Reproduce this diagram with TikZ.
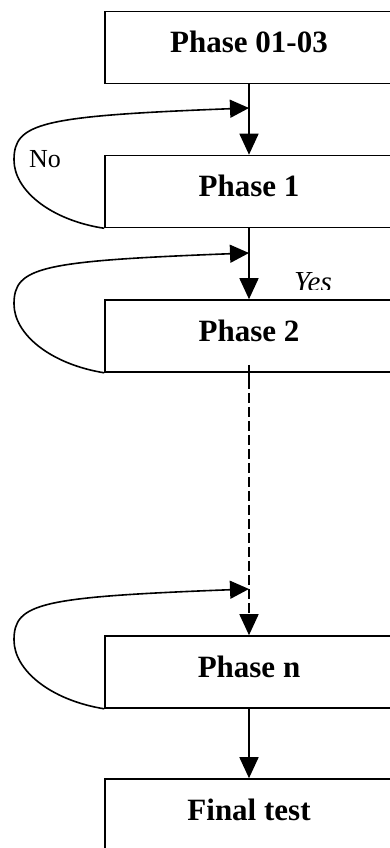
\documentclass[tikz,border=0pt]{standalone}
\usepackage{fontspec}
\setmainfont{Liberation Serif}
\usetikzlibrary{arrows.meta}
\begin{document}
\begin{tikzpicture}[x=1pt,y=-1pt,
  phasebox/.style={draw,line width=1.6pt,minimum width=288pt,minimum height=72pt,
    inner sep=0pt,text height=20pt,text depth=10pt,
    font=\fontsize{31}{36}\selectfont\bfseries},
  flow/.style={line width=1.6pt,-{Triangle[length=21pt,width=19pt]}},
  loopback/.style={line width=1.6pt,-{Triangle[length=19pt,width=18pt]}},
  gapline/.style={line width=1.6pt,dash pattern=on 10pt off 4pt,-{Triangle[length=21pt,width=19pt]}},
  note/.style={inner sep=0pt,anchor=base west}]
\useasboundingbox (0,0) rectangle (390,848);

% process boxes
\node[phasebox] (p0) at (249,47.5) {Phase 01-03};
\node[phasebox] (p1) at (249,191.5) {Phase 1};
\node[phasebox] (p2) at (249,336) {Phase 2};
\node[phasebox] (pn) at (249,672) {Phase n};
\node[phasebox] (ft) at (249,815) {Final test};

% points where the repeat loops rejoin the main line
\coordinate (j1) at (249,108);
\coordinate (j2) at (249,253);
\coordinate (jn) at (249,589);

% main flow
\draw[flow] (p0.south) -- (p1.north);
\draw[flow] (p1.south) -- (p2.north);
\draw[line width=1.6pt] (p2.south) -- ++(0,8);
\draw[gapline] ([yshift=8pt]p2.south) -- (pn.north);
\draw[flow] (pn.south) -- (ft.north);

% repeat loops from each phase back to its entry
\draw[loopback] (p1.south west) .. controls (50,220) and (14,190) .. (14,160)
  .. controls (14,123) and (40,116) .. (j1);
\draw[loopback] (p2.south west) .. controls (50,364) and (14,334) .. (14,304)
  .. controls (14,267) and (40,261) .. (j2);
\draw[loopback] (pn.south west) .. controls (50,700) and (14,670) .. (14,640)
  .. controls (14,603) and (40,597) .. (jn);

% branch labels
\node[note,font=\fontsize{26}{30}\selectfont] (no) at (29,167) {No};
\begin{scope}
  \clip (285,260) rectangle (360,289.5);
  \node[note,font=\fontsize{29}{33}\selectfont\itshape] (yes) at (294,291) {Yes};
\end{scope}
\end{tikzpicture}
\end{document}
